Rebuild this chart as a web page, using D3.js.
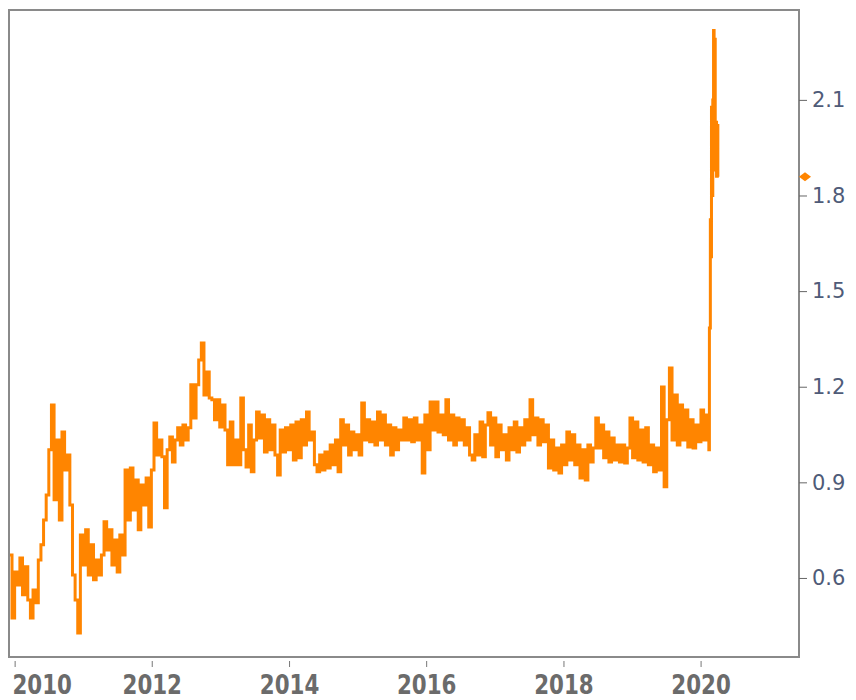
<!DOCTYPE html>
<html>
<head>
<meta charset="utf-8">
<script src="https://cdn.jsdelivr.net/npm/d3@7"></script>
<style>
  body { margin: 0; background: #fff; }
  .chart svg { display: block; }
</style>
</head>
<body>
<div class="chart"></div>
<script>
// biweekly readings starting 2009-12-04
const startDate = "2009-12-04";
const stepDays = 14;
const values = [
  0.672, 0.474, 0.619, 0.578, 0.663, 0.547, 0.635, 0.531, 0.474, 0.562, 0.522, 0.656,
  0.704, 0.782, 0.860, 1.002, 1.143, 0.845, 1.033, 0.782, 1.058, 0.939, 0.986, 0.829,
  0.609, 0.531, 0.427, 0.735, 0.641, 0.751, 0.609, 0.704, 0.594, 0.656, 0.609, 0.672,
  0.776, 0.688, 0.751, 0.641, 0.719, 0.619, 0.735, 0.672, 0.939, 0.782, 0.945, 0.813,
  0.907, 0.751, 0.892, 0.829, 0.914, 0.760, 0.939, 1.086, 0.986, 1.033, 0.980, 0.820,
  1.002, 1.042, 0.964, 1.033, 1.071, 1.017, 1.080, 1.033, 1.071, 1.206, 1.102, 1.206,
  1.284, 1.337, 1.174, 1.246, 1.165, 1.159, 1.096, 1.159, 1.074, 1.143, 1.064, 0.955,
  1.089, 0.955, 1.033, 0.955, 1.165, 1.002, 0.948, 1.080, 0.933, 1.033, 1.121, 1.039,
  1.111, 0.995, 1.096, 1.002, 1.080, 0.986, 0.923, 1.064, 0.995, 1.071, 1.002, 1.080,
  0.970, 1.089, 0.977, 1.096, 1.017, 1.121, 1.033, 1.058, 0.955, 0.933, 0.986, 0.939,
  0.995, 0.945, 1.017, 0.955, 1.033, 0.933, 1.096, 1.017, 1.080, 0.986, 1.058, 1.002,
  1.049, 0.986, 1.149, 1.033, 1.096, 1.027, 1.089, 1.017, 1.121, 1.033, 1.111, 1.017,
  1.080, 0.986, 1.071, 1.002, 1.064, 1.033, 1.102, 1.033, 1.096, 1.027, 1.102, 1.033,
  1.080, 0.929, 1.111, 1.002, 1.152, 1.064, 1.152, 1.058, 1.111, 1.049, 1.159, 1.033,
  1.111, 1.017, 1.102, 1.033, 1.096, 1.017, 1.071, 0.986, 0.970, 1.049, 0.986, 1.089,
  0.980, 1.080, 1.118, 1.017, 1.102, 0.980, 1.080, 1.002, 1.049, 0.970, 1.071, 1.002,
  1.089, 0.995, 1.071, 1.017, 1.096, 1.033, 1.159, 1.049, 1.102, 1.017, 1.096, 1.027,
  1.080, 0.945, 1.033, 0.939, 1.008, 0.929, 1.017, 0.955, 1.058, 0.970, 1.049, 0.955,
  1.017, 0.914, 1.002, 0.907, 1.017, 0.964, 1.008, 1.102, 1.008, 1.080, 0.977, 1.058,
  0.964, 1.039, 0.970, 1.017, 0.964, 1.017, 0.961, 1.008, 1.102, 0.977, 1.089, 0.970,
  1.064, 0.964, 1.071, 0.955, 1.017, 0.933, 1.008, 0.939, 1.199, 0.886, 1.096, 1.259,
  1.033, 1.174, 1.017, 1.143, 1.033, 1.127, 1.011, 1.096, 1.008, 1.080, 1.027, 1.127,
  1.033, 1.111, 1.002
];

// the 2020 spike, read at finer spacing
const spikeDates = ["2020-02-17", "2020-02-22", "2020-02-25", "2020-02-28", "2020-03-03",
  "2020-03-06", "2020-03-10", "2020-03-13", "2020-03-16", "2020-03-19", "2020-03-23",
  "2020-03-26", "2020-03-30", "2020-04-02"];
const spikeValues = [1.384, 1.724, 1.608, 2.077, 1.80, 2.10, 2.318, 1.95, 2.29, 1.88, 2.03,
  1.86, 2.02, 1.859];

const xTicks = [2010, 2012, 2014, 2016, 2018, 2020];
const yTicks = [0.6, 0.9, 1.2, 1.5, 1.8, 2.1];
const xDomain = ["2009-12-02", "2021-06-08"];
const yDomain = [0.352, 2.382];

const parse = d3.timeParse("%Y-%m-%d");
const start = parse(startDate);
let data = values.map((v, i) => ({ date: d3.timeDay.offset(start, i * stepDays), value: v }));
data = data.concat(spikeDates.map((d, i) => ({ date: parse(d), value: spikeValues[i] })));

// chart setup
const outWidth = 856, outHeight = 700;
const box = { left: 9, top: 10, right: 799, bottom: 657 };

const svg = d3.select(".chart").append("svg")
  .attr("width", outWidth)
  .attr("height", outHeight);

const xScale = d3.scaleTime()
  .domain(xDomain.map(parse))
  .range([box.left, box.right]);
const yScale = d3.scaleLinear()
  .domain(yDomain)
  .range([box.bottom, box.top]);

svg.append("clipPath").attr("id", "plot-clip")
  .append("rect")
  .attr("x", box.left).attr("y", box.top)
  .attr("width", box.right - box.left)
  .attr("height", box.bottom - box.top);

// step curve gives the blocky daily-data look
const line = d3.line()
  .curve(d3.curveStepAfter)
  .x(d => xScale(d.date))
  .y(d => yScale(d.value));

svg.append("path")
  .datum(data)
  .attr("clip-path", "url(#plot-clip)")
  .attr("d", line)
  .attr("fill", "none")
  .attr("stroke", "#ff8500")
  .attr("stroke-width", 3)
  .attr("stroke-linejoin", "miter");

// plot border
svg.append("rect")
  .attr("x", box.left).attr("y", box.top)
  .attr("width", box.right - box.left)
  .attr("height", box.bottom - box.top)
  .attr("fill", "none")
  .attr("stroke", "#8a8a8a")
  .attr("stroke-width", 2);

// right y axis
const yAxis = d3.axisRight(yScale)
  .tickValues(yTicks)
  .tickSize(8)
  .tickPadding(5)
  .tickFormat(d3.format(".1f"));

svg.append("g")
  .attr("class", "axis y-axis")
  .attr("transform", `translate(${box.right}, 0)`)
  .call(yAxis)
  .call(g => g.select(".domain").remove())
  .call(g => g.selectAll("line").attr("stroke", "#666"))
  .call(g => g.selectAll("text")
    .attr("fill", "#4f5b78")
    .style("font", "21px 'DejaVu Sans', Verdana, sans-serif"));

// bottom x axis (ticks sit below the border)
const xAxis = d3.axisBottom(xScale)
  .tickValues(xTicks.map(yr => new Date(yr, 0, 1)))
  .tickSize(6)
  .tickPadding(8)
  .tickFormat(d3.timeFormat("%Y"));

svg.append("g")
  .attr("class", "axis x-axis")
  .attr("transform", `translate(0, ${box.bottom + 4})`)
  .call(xAxis)
  .call(g => g.select(".domain").remove())
  .call(g => g.selectAll("line").attr("stroke", "#777"))
  .call(g => g.selectAll("text")
    .attr("fill", "#6b6b6b")
    .attr("text-anchor", (d, i) => i === 0 ? "start" : "middle")
    .attr("dx", (d, i) => i === 0 ? -3 : 0)
    .attr("transform", "scale(0.88,1)")
    .style("font", "bold 27px 'Liberation Sans Narrow', 'DejaVu Sans Condensed', sans-serif"));

// last value marker on the right axis
const last = data[data.length - 1];
const my = yScale(last.value), mx = box.right + 6;
svg.append("path")
  .attr("d", `M${mx - 6},${my} L${mx},${my - 4.5} L${mx + 6},${my} L${mx},${my + 4.5} Z`)
  .attr("fill", "#ff8500");
</script>
</body>
</html>
